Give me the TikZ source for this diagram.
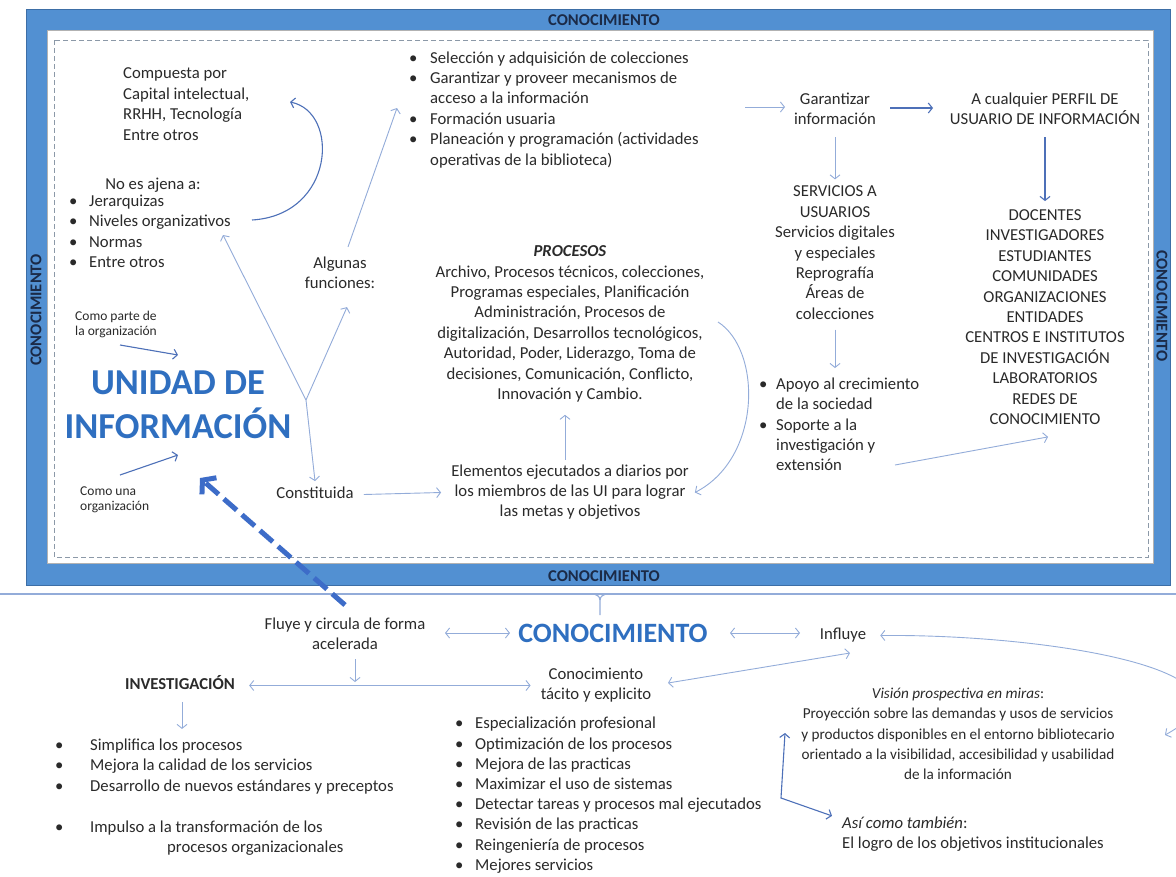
\documentclass[tikz,border=0pt]{standalone}
\usepackage{fontspec}
\setmainfont{Carlito}
\usetikzlibrary{arrows.meta,calc}
\definecolor{frameblue}{HTML}{5290D2}
\definecolor{frameedge}{HTML}{3D6EA6}
\definecolor{txtc}{HTML}{2A2A2A}
\definecolor{arrlight}{HTML}{93ACD9}
\definecolor{arrdark}{HTML}{4D70B8}
\definecolor{bigblue}{HTML}{2F6FC0}
\definecolor{dashgray}{HTML}{8C99A8}
\definecolor{labnavy}{HTML}{1B2A47}
\definecolor{thickblue}{HTML}{3D6CC8}
\newcommand\bul[1]{\makebox[#1][l]{\textbullet}}
\tikzset{
  tipS/.tip={Straight Barb[length=4pt,width=10pt]},
  base/.style={inner sep=0pt, text=txtc, yshift=-2.5pt},
  tc/.style={base, font=\fontsize{16.7}{20.4}\selectfont, align=center},
  tl/.style={base, font=\fontsize{16.7}{20.4}\selectfont, align=left},
  ts/.style={base, font=\fontsize{13.5}{15}\selectfont, align=left},
  bigt/.style={inner sep=0pt, text=bigblue, align=center},
  frm/.style={font=\fontsize{16.5}{18}\selectfont\bfseries, text=labnavy, inner sep=0pt},
  arr/.style={draw=arrlight, line width=0.9pt, -tipS},
  arrd/.style={draw=arrdark, line width=1.1pt, -tipS},
  arrb/.style={draw=arrlight, line width=0.9pt, tipS-tipS},
  arrdb/.style={draw=arrdark, line width=1.1pt, tipS-tipS},
  thickdash/.style={draw=thickblue, line width=5pt, dash pattern=on 17pt off 7pt,
     -{Straight Barb[length=9pt,width=22pt,line width=5pt]}},
}
\begin{document}
\begin{tikzpicture}[x=1pt,y=-1pt]
\useasboundingbox (0,0) rectangle (1176,876);
% frame
\fill[frameblue, draw=frameedge, line width=1pt] (26,9) rectangle (1170,585);
\fill[white, draw=gray!60, line width=0.6pt] (47,30) rectangle (1153,563);
\draw[dashgray, line width=0.9pt, dash pattern=on 5pt off 3pt] (54,40) rectangle (1148,557);
\node[frm] (ktop) at (604,20) {CONOCIMIENTO};
\node[frm] (kbot) at (604,576) {CONOCIMIENTO};
\node[frm, rotate=90] (kleft) at (36,310) {CONOCIMIENTO};
\node[frm, rotate=-90] (kright) at (1162,306) {CONOCIMIENTO};
% separator line with brace tick
\draw[arrlight, line width=1.6pt] (0,594) -- (1176,594);
\coordinate (brace) at (600,600);
\draw[arrlight, line width=1.2pt] (592,594) to[out=0,in=90] (brace) -- (600,615);
\draw[arrlight, line width=1.2pt] (608,594) to[out=180,in=90] (brace);

% ===== upper part =====
\node[tl, anchor=west] (comp) at (123,103) {\strut Compuesta por\\Capital intelectual,\\RRHH, Tecnología\\Entre otros\strut};
\node[tc] (noes) at (153,183) {\strut No es ajena a:\strut};
\node[tl, anchor=west] (noeslist) at (69,230.5) {\strut\bul{20pt}Jerarquizas\\ \bul{20pt}Niveles organizativos\\ \bul{20pt}Normas\\ \bul{20pt}Entre otros\strut};
\coordinate (cs) at (252,220);
\coordinate (ce) at (290,102);
\draw[arrd] (cs) .. controls (335,215) and (340,112) .. (ce);

\node[ts, anchor=west] (parte) at (75,322.5) {\strut Como parte de\\la organización\strut};
\node[ts, anchor=west] (unaorg) at (80,497.5) {\strut Como una\\organización\strut};
\node[bigt, font=\fontsize{36.5}{44}\selectfont\bfseries] (unidad) at (178,405) {UNIDAD DE\\INFORMACIÓN};
\coordinate (p1) at (120,345);
\coordinate (p2) at (178,355);
\draw[arrd] (p1) -- (p2);
\coordinate (u1) at (120,475);
\coordinate (u2) at (178,455);
\draw[arrd] (u1) -- (u2);

\node[tc] (algunas) at (340,272) {\strut Algunas\\funciones:\strut};
\node[tc] (constit) at (315,492) {\strut Constituida\strut};
\coordinate (J) at (306,400);
\coordinate (jn) at (223,235);
\draw[arr] (J) -- (jn);
\draw[arr] (J) -- ([xshift=7pt,yshift=-12pt]algunas.south);
\draw[arr] (J) -- ([yshift=3pt]constit.north);
\coordinate (fa) at (397,108);
\draw[arr] ([xshift=8pt,yshift=7pt]algunas.north) -- (fa);

\node[tl, anchor=west] (funcs) at (409,107.5) {\strut\bul{21pt}Selección y adquisición de colecciones\\ \bul{21pt}Garantizar y proveer mecanismos de\\ \hspace*{21pt}acceso a la información\\ \bul{21pt}Formación usuaria\\ \bul{21pt}Planeación y programación (actividades\\ \hspace*{21pt}operativas de la biblioteca)\strut};

\node[tc] (garant) at (835,108) {\strut Garantizar\\información\strut};
\node[tc] (perfil) at (1045,108) {\strut A cualquier PERFIL DE\\USUARIO DE INFORMACIÓN\strut};
\coordinate (g0) at (745,107);
\draw[arr] (g0) -- (785,107);
\draw[arrd] (890,108) -- (933,108);

\node[tc] (serv) at (835,251.5) {\strut SERVICIOS A\\USUARIOS\\Servicios digitales\\y especiales\\Reprografía\\Áreas de\\colecciones\strut};
\node[tc] (docentes) at (1045,316) {\strut DOCENTES\\INVESTIGADORES\\ESTUDIANTES\\COMUNIDADES\\ORGANIZACIONES\\ENTIDADES\\CENTROS E INSTITUTOS\\DE INVESTIGACIÓN\\LABORATORIOS\\REDES DE\\CONOCIMIENTO\strut};
\draw[arr] ([yshift=-6pt]garant.south) -- ([yshift=3pt]serv.north);
\draw[arrd] ([yshift=-6pt]perfil.south) -- ([yshift=5pt]docentes.north);

\node[tl, anchor=west] (apoyo) at (759,423.5) {\strut\bul{17pt}Apoyo al crecimiento\\ \hspace*{17pt}de la sociedad\\ \bul{17pt}Soporte a la\\ \hspace*{17pt}investigación y\\ \hspace*{17pt}extensión\strut};
\draw[arr] ([yshift=-4pt]serv.south) -- (835,368);
\coordinate (a0) at (895,465);
\draw[arr] (a0) -- ([xshift=3pt,yshift=-6pt]docentes.south);

\node[tc] (procesos) at (570,321.5) {\strut\textbf{\textit{PROCESOS}}\\Archivo, Procesos técnicos, colecciones,\\Programas especiales, Planificación\\Administración, Procesos de\\digitalización, Desarrollos tecnológicos,\\Autoridad, Poder, Liderazgo, Toma de\\decisiones, Comunicación, Conflicto,\\Innovación y Cambio.\strut};
\node[tc] (elem) at (570,490) {\strut Elementos ejecutados a diarios por\\los miembros de las UI para lograr\\las metas y objetivos\strut};
\draw[arr] ([xshift=-5pt,yshift=2pt]elem.north) -- ([xshift=-5pt,yshift=-9pt]procesos.south);
\draw[arr] ([xshift=10pt]constit.east) -- ([xshift=-10pt]elem.west);
\coordinate (pc) at (718,322);
\draw[arr] (pc) .. controls (762,350) and (762,458) .. ([xshift=6pt]elem.east);

% thick dashed arrow
\node[tc] (fluye) at (345,633) {\strut Fluye y circula de forma\\acelerada\strut};
\coordinate (ui) at (200,478);
\draw[thickdash] (345,605) -- (ui);

% ===== lower part =====
\node[bigt, font=\fontsize{28}{34}\selectfont\bfseries] (kbig) at (613,633) {CONOCIMIENTO};
\node[tc] (influye) at (843,633) {\strut Influye\strut};
\draw[arrb] (445,633) -- (510,633);
\draw[arrb] (730,633) -- (800,633);

\node[tc, font=\fontsize{16.7}{20.4}\selectfont\bfseries] (invest) at (180,683) {\strut INVESTIGACIÓN\strut};
\node[tc] (tacito) at (596,683) {\strut Conocimiento\\tácito y explicito\strut};
\draw[arrb] ([xshift=14pt]invest.east) -- ([xshift=-10pt]tacito.west);
\coordinate (fl) at (355,682);
\draw[arr] ([xshift=10pt,yshift=-3pt]fluye.south) -- (fl);
\draw[arr] ([xshift=2pt,yshift=-6pt]invest.south) -- ([xshift=2pt,yshift=-33pt]invest.south);

\node[tl, anchor=west] (invlist) at (55,795) {\strut\bul{35pt}Simplifica los procesos\\ \bul{35pt}Mejora la calidad de los servicios\\ \bul{35pt}Desarrollo de nuevos estándares y preceptos\\[20.4pt] \bul{35pt}Impulso a la transformación de los\\ \hspace*{112pt}procesos organizacionales\strut};

\node[tl, anchor=west, font=\fontsize{16.7}{20.2}\selectfont] (tlist) at (455,793) {\strut\bul{20pt}Especialización profesional\\ \bul{20pt}Optimización de los procesos\\ \bul{20pt}Mejora de las practicas\\ \bul{20pt}Maximizar el uso de sistemas\\ \bul{20pt}Detectar tareas y procesos mal ejecutados\\ \bul{20pt}Revisión de las practicas\\ \bul{20pt}Reingeniería de procesos\\ \bul{20pt}Mejores servicios\strut};

\coordinate (ti) at (668,683);
\coordinate (it) at (850,653);
\draw[arrb] (ti) -- (it);

\node[tc, font=\fontsize{15.2}{20.4}\selectfont] (vision) at (958,732.5) {\strut\textit{Visión prospectiva en miras}:\\Proyección sobre las demandas y usos de servicios\\y productos disponibles en el entorno bibliotecario\\orientado a la visibilidad, accesibilidad y usabilidad\\de la información\strut};
\coordinate (vr) at (1165,735);
\draw[arrb] ([xshift=14pt]influye.east) .. controls (1050,634) and (1280,672) .. (vr);

\node[tl, anchor=west] (asi) at (842,832) {\strut\textit{Así como también}:\\El logro de los objetivos institucionales\strut};
\coordinate (v1) at (785,733);
\coordinate (v2) at (781,798);
\draw[arrdb] (v1) -- (v2) -- ([xshift=-10pt,yshift=-2pt]asi.north west);
\end{tikzpicture}
\end{document}
